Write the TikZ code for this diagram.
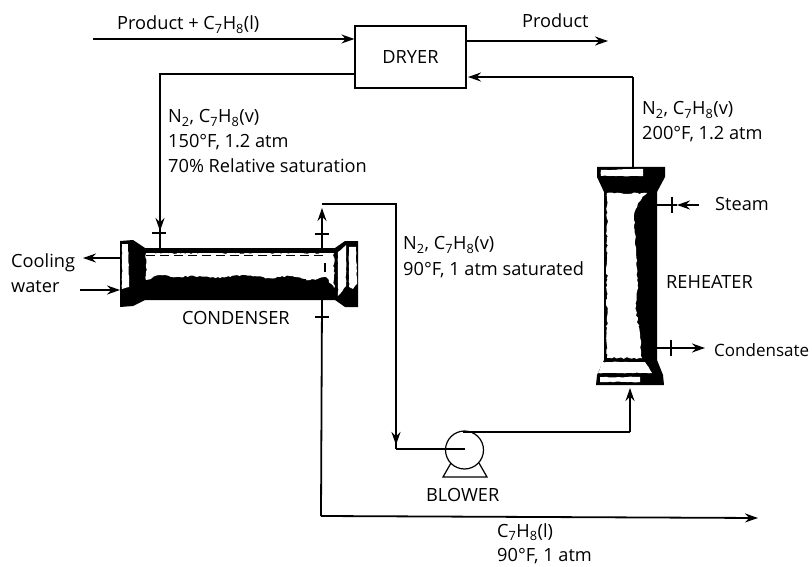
\documentclass[tikz,border=0pt]{standalone}
\usepackage{fontspec}
\setmainfont{Open Sans}
\usetikzlibrary{arrows.meta,decorations.pathmorphing}
\tikzset{
  pipe/.style={line width=1.8pt},
  flow/.style={pipe,-{Stealth[length=13pt,width=9pt]}},
  tick/.style={line width=1.8pt},
  label/.style={font=\fontsize{18.2}{25}\selectfont,inner sep=0pt,align=left,anchor=base west},
  rough/.style={decorate,decoration={random steps,segment length=2.5pt,amplitude=1pt}},
  fine/.style={decorate,decoration={random steps,segment length=3pt,amplitude=0.4pt}}
}
\newcommand{\tol}{C\textsubscript{7}H\textsubscript{8}}
\begin{document}
\begin{tikzpicture}[x=1pt,y=-1pt]
\useasboundingbox (0,0) rectangle (812,567);
\fill[white] (0,0) rectangle (812,567);
% dryer
\node[draw,line width=1.1pt,minimum width=111pt,minimum height=62pt,inner sep=0pt,font=\fontsize{18.2}{25}\selectfont] (dryer) at (410.5,57) {DRYER};
% condenser shapes
\node[inner sep=0pt,minimum width=239pt,minimum height=68pt] (cond) at (239.5,274) {};
\fill (120,241) -- (133,240) -- (145,248) -- (335,248) -- (345,241) -- (358,241) -- (358,307) -- (345,307) -- (335,300) -- (145,300) -- (133,306) -- (120,307) -- cycle;
\fill[white,rough] (146,253) -- (334,253) -- (334,288) -- (326,277) -- (310,280) -- (290,276) -- (268,278) -- (245,275) -- (220,278) -- (200,276) -- (180,277) -- (160,275) -- (146,280) -- cycle;
\fill (145,248) rectangle (335,253);
\fill[white,fine] (122,244) -- (128,244) -- (129,287) -- (122,289) -- cycle;
\fill[white,fine] (338,252) -- (346,245) -- (346,286) -- (338,296) -- cycle;
\fill[white,fine] (349,247) -- (356,247) -- (357,284) -- (353,289) -- (349,287) -- cycle;
\draw[black,line width=1.3pt,dash pattern=on 9pt off 5pt] (146,255.5) -- (325,255.5);
\draw[black,line width=1.2pt,dash pattern=on 9pt off 5pt] (325,263) -- (325,290);
% reheater shapes
\node[inner sep=0pt,minimum width=69pt,minimum height=218pt] (reheat) at (631,276) {};
\fill (597,167) -- (665,167) -- (665,177) -- (657,192) -- (657,360) -- (663,375) -- (664,385) -- (596,385) -- (597,375) -- (604,360) -- (604,192) -- (597,177) -- cycle;
\fill[white,rough] (607,193) -- (647,193) -- (638,203) -- (634,217) -- (636,250) -- (638,283) -- (636,310) -- (640,337) -- (642,358) -- (607,358) -- cycle;
\fill[white,fine] (601,170) -- (643,169) -- (643,176) -- (601,176) -- cycle;
\fill[white,fine] (602,362) -- (645,362) -- (652,373) -- (598,373) -- cycle;
\fill[white,fine] (600,377) -- (640,377) -- (640,382) -- (600,382) -- cycle;
% blower
\node[draw,circle,line width=1.2pt,minimum size=38pt,inner sep=0pt] (blower) at (464.5,450) {};
\draw[line width=1.2pt] (451,463) -- (443,477) -- (487,477) -- (479,463);
% named connection points
\coordinate (feed) at (93,39);
\coordinate (prod) at (608,41);
\coordinate (dryL) at (355,74);
\coordinate (c1) at (160,74);
\coordinate (c1a) at (159,231);
\coordinate (c1b) at (159,248);
\coordinate (t1a) at (152,233); \coordinate (t1b) at (166,233);
\coordinate (c2) at (322,248);
\coordinate (c2a) at (322,208);
\coordinate (c2b) at (322,204);
\coordinate (c3) at (396,204);
\coordinate (c3a) at (396,445);
\coordinate (c3b) at (396,449);
\coordinate (bin) at (465,449);
\coordinate (t2a) at (315,234); \coordinate (t2b) at (329,234);
\coordinate (c4) at (322,300);
\coordinate (c5) at (321,516);
\coordinate (liq) at (758,518);
\coordinate (t3a) at (315,317); \coordinate (t3b) at (329,317);
\coordinate (bout) at (463,432);
\coordinate (r1) at (630,432);
\coordinate (r1a) at (630,388);
\coordinate (r2) at (633,167);
\coordinate (r3) at (633,77);
\coordinate (dryR) at (468,77);
\coordinate (cwo) at (83,258);
\coordinate (cwoS) at (120,258);
\coordinate (cwi) at (80,290);
\coordinate (cwiE) at (120,290);
\coordinate (stS) at (699,205);
\coordinate (stE) at (657,205);
\coordinate (stM) at (677,205);
\coordinate (t4a) at (672,197); \coordinate (t4b) at (672,213);
\coordinate (csS) at (657,348);
\coordinate (csE) at (705,348);
\coordinate (t5a) at (671,340); \coordinate (t5b) at (671,356);
% connectors
\draw[flow] (feed) -- (dryer.west |- feed);
\draw[flow] (dryer.east |- prod) -- (prod);
\draw[pipe] (dryL) -- (c1) -- (c1 |- c1a);
\draw[flow] (c1) -- (c1 |- c1a);
\draw[pipe] (c1 |- c1a) -- (c1 |- c1b);
\draw[tick] (t1a) -- (t1b);
\draw[flow] (c2) -- (c2a);
\draw[tick] (t2a) -- (t2b);
\draw[pipe] (c2b) -- (c3) -- (c3b);
\draw[flow] (c3) -- (c3a);
\draw[pipe] (c3b) -- (bin);
\draw[pipe] (c4) -- (c5);
\draw[tick] (t3a) -- (t3b);
\draw[flow] (c5) -- (liq);
\draw[pipe] (bout) -- (r1);
\draw[flow] (r1) -- (r1a);
\draw[pipe] (r2) -- (r3);
\draw[flow] (r3) -- (dryR);
\draw[flow] (cwoS) -- (cwo);
\draw[flow] (cwi) -- (cwiE);
\draw[flow] (stS) -- (stM);
\draw[pipe] (stM) -- (stE);
\draw[tick] (t4a) -- (t4b);
\draw[flow] (csS) -- (csE);
\draw[tick] (t5a) -- (t5b);
% labels
\node[label] (l1) at (117,30) {Product + \tol(l)};
\node[label] (l2) at (522,28) {Product};
\node[label] (l3) at (168,173) {N\textsubscript{2}, \tol(v)\\150°F, 1.2 atm\\70\% Relative saturation};
\node[label] (l4) at (642,140) {N\textsubscript{2}, \tol(v)\\200°F, 1.2 atm};
\node[label] (l5) at (403,275) {N\textsubscript{2}, \tol(v)\\90°F, 1 atm saturated};
\node[label] (l6) at (11,292) {Cooling\\water};
\node[label] (l7) at (182,324) {CONDENSER};
\node[label] (l8) at (666,288) {REHEATER};
\node[label] (l9) at (715,211) {Steam};
\node[label,font=\fontsize{17}{25}\selectfont] (l10) at (714,356) {Condensate};
\node[label] (l11) at (426,501) {BLOWER};
\node[label,font=\fontsize{18.2}{24}\selectfont] (l12) at (497,561) {\tol(l)\\90°F, 1 atm};
\end{tikzpicture}
\end{document}
